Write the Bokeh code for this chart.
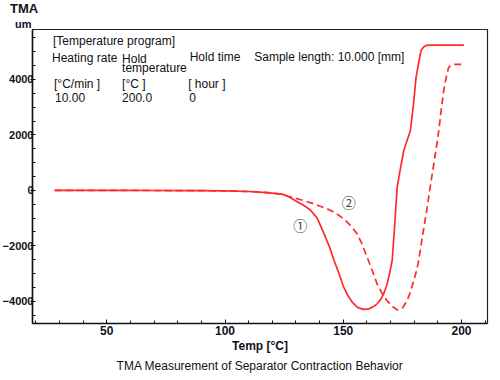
from bokeh.plotting import figure
from bokeh.models import Label, Title, FixedTicker, Range1d
from bokeh.embed import file_html
from bokeh.resources import INLINE

# ---- data ----
temp_1 = [28, 50, 70, 90, 100, 110, 118, 124.5, 127, 130, 133, 136, 139, 141.5, 144, 146, 148, 150,
          152, 154, 156, 158.5, 161, 163, 164.3, 165.7, 167.1, 168.5, 169.7, 170.7, 171.8, 172.8,
          174.2, 175.6, 177, 178.4, 179.7, 180.8, 181.9, 182.9, 184, 185, 187, 190, 195, 201]
tma_1 = [0, 0, -5, -10, -20, -40, -80, -144, -230, -380, -530, -700, -1000, -1490, -2000, -2500,
         -2950, -3450, -3800, -4050, -4220, -4290, -4270, -4180, -4090, -3950, -3730, -3400, -2950,
         -2530, -1200, 115, 800, 1440, 1800, 2160, 3100, 4080, 4600, 5046, 5170, 5226, 5235, 5240,
         5240, 5240]

temp_2 = [28, 50, 70, 90, 100, 110, 118, 124.5, 127, 130, 133.2, 138, 143.2, 147, 150.2, 153, 155.9,
          158, 160.1, 162.3, 164.3, 166.5, 168.5, 170.7, 172.8, 175, 177, 178.5, 179.8, 181, 181.9,
          183.7, 185.5, 186.9, 188.3, 189.4, 190.4, 191.5, 192.5, 193.6, 194.6, 195.6, 196.8, 201]
tma_2 = [0, 0, -5, -10, -20, -40, -80, -144, -220, -290, -366, -500, -666, -830, -1027, -1260, -1568,
         -1950, -2410, -2900, -3372, -3720, -3974, -4180, -4310, -4250, -3974, -3650, -3253, -2900,
         -2531, -1550, -607, 200, 957, 1560, 2160, 2950, 3603, 4100, 4444, 4510, 4541, 4541]

x_major = [50, 100, 150, 200]
x_minor = list(range(20, 211, 10))
y_major = [-4000, -2000, 0, 2000, 4000]
y_minor = list(range(-4500, 5501, 500))

X0, X1 = 18.6, 211.0
Y0, Y1 = -4800, 5800

FONT = "Liberation Sans"
RED = "#ff2a2a"
INK = "#111122"

p = figure(width=492, height=375, output_backend="svg", toolbar_location=None,
           x_range=Range1d(X0, X1), y_range=Range1d(Y0, Y1),
           min_border_left=0, min_border_right=4, min_border_top=29, min_border_bottom=0)
p.styles = {"margin-left": "-1.5px", "margin-top": "-2px",
            "margin-right": "-10px", "margin-bottom": "-12px"}
p.background_fill_color = "white"
p.border_fill_color = "white"
p.outline_line_color = "#222222"
p.outline_line_width = 1.2
p.grid.visible = False

# frame geometry in picture px -> data, used only for placing annotation texts
FL, FR, FT, FB = 32.5, 487.0, 29.3, 323.3
def dx(px):
    return X0 + (px - FL) / (FR - FL) * (X1 - X0)
def dy(py):
    return Y1 - (py - FT) / (FB - FT) * (Y1 - Y0)

# ---- curves ----
p.line(temp_1, tma_1, line_color=RED, line_width=1.7)
p.line(temp_2, tma_2, line_color=RED, line_width=1.7, line_dash="7 4")

# ---- axes ----
xa = p.xaxis[0]
xa.ticker = FixedTicker(ticks=x_major, minor_ticks=x_minor)
xa.major_tick_in = 4
xa.major_tick_out = 0
xa.minor_tick_in = 3
xa.minor_tick_out = 0
xa.axis_line_color = "#111111"
xa.axis_line_width = 1.5
xa.major_tick_line_color = "#111111"
xa.minor_tick_line_color = "#111111"
xa.major_label_text_font = FONT
xa.major_label_text_font_size = "12px"
xa.major_label_text_font_style = "bold"
xa.major_label_text_color = INK
xa.major_label_standoff = 2
xa.axis_label = "Temp [°C]"
xa.axis_label_text_font = FONT
xa.axis_label_text_font_size = "12px"
xa.axis_label_text_font_style = "bold"
xa.axis_label_text_color = INK
xa.axis_label_standoff = 1

ya = p.yaxis[0]
ya.ticker = FixedTicker(ticks=y_major, minor_ticks=y_minor)
ya.major_tick_in = 0
ya.major_tick_out = 2
ya.minor_tick_in = 3
ya.minor_tick_out = 0
ya.axis_line_color = "#111111"
ya.axis_line_width = 1.5
ya.major_tick_line_color = "#111111"
ya.minor_tick_line_color = "#111111"
ya.major_label_text_font = FONT
ya.major_label_text_font_size = "11px"
ya.major_label_text_font_style = "bold"
ya.major_label_text_color = INK
ya.major_label_standoff = -3

# y-unit labels above the axis
p.add_layout(Title(text="um", align="left", offset=-17.5, standoff=0, text_font=FONT,
                   text_font_size="11px", text_font_style="bold", text_color=INK), "above")
p.add_layout(Title(text="TMA", align="left", offset=-22.5, standoff=0, text_font=FONT,
                   text_font_size="13px", text_font_style="bold", text_color=INK), "above")

# ---- texts inside the frame ----
texts = [
    ("[Temperature program]", 53, 41),
    ("Heating rate", 52, 58),
    ("Hold", 122, 59),
    ("temperature", 122, 68),
    ("Hold time", 189.5, 57),
    ("Sample length: 10.000 [mm]", 254, 57),
    ("[°C/min ]", 54, 84),
    ("[°C ]", 122, 84),
    ("[ hour ]", 188, 84),
    ("10.00", 55, 97.5),
    ("200.0", 122, 97.5),
    ("0", 189, 97.5),
]
for s, px, py in texts:
    p.add_layout(Label(x=dx(px), y=dy(py), text=s, text_align="left", text_baseline="middle",
                       text_font=FONT, text_font_size="12px", text_color="#111111"))

p.add_layout(Label(x=dx(300), y=dy(225), text="①", text_align="center", text_baseline="middle",
                   text_font="Noto Sans CJK JP", text_font_size="14px", text_color="#444444"))
p.add_layout(Label(x=dx(348.5), y=dy(201.5), text="②", text_align="center", text_baseline="middle",
                   text_font="Noto Sans CJK JP", text_font_size="14px", text_color="#444444"))

p.add_layout(Title(text="TMA Measurement of Separator Contraction Behavior", align="center",
                   text_font=FONT, text_font_size="12px", text_font_style="normal",
                   text_color="#111111", standoff=2), "below")

open("out.html", "w").write(file_html(p, INLINE))
